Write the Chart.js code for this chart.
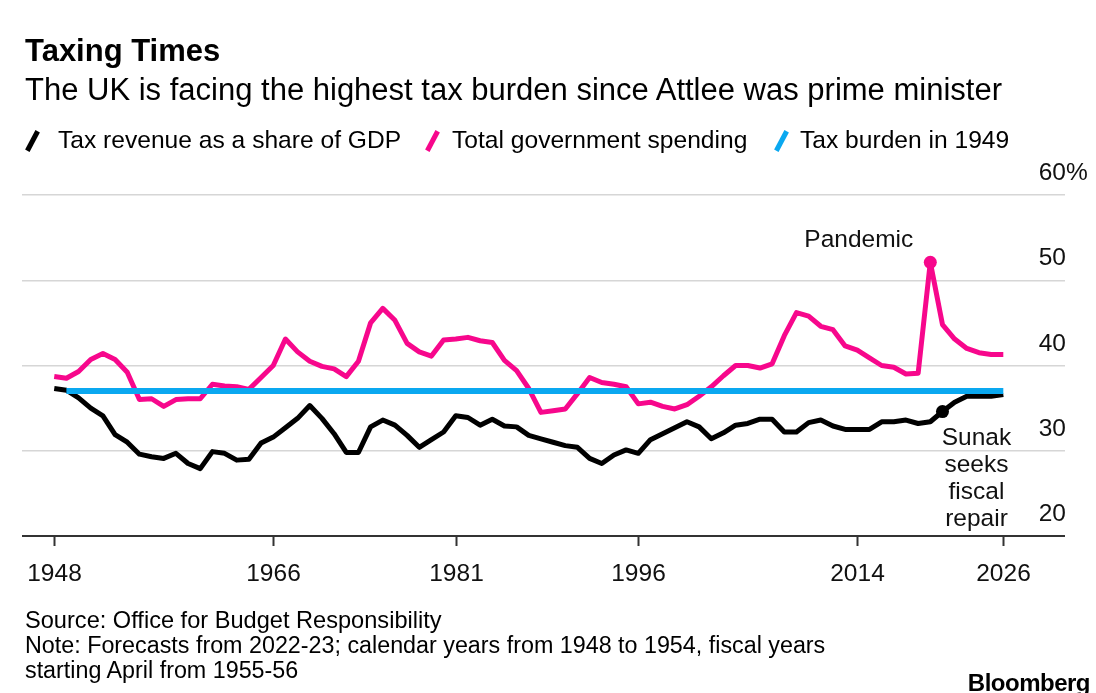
<!DOCTYPE html>
<html>
<head>
<meta charset="utf-8">
<script src="https://cdn.jsdelivr.net/npm/chart.js@4.4.1/dist/chart.umd.min.js"></script>
<style>
html,body{margin:0;padding:0;background:#fff;}
#wrap{position:relative;width:1096px;height:693px;overflow:hidden;font-family:"Liberation Sans",Arial,sans-serif;color:#000;}
#c{position:absolute;left:0;top:0;}
.t{position:absolute;white-space:nowrap;line-height:1;}
.sl{position:absolute;width:5px;height:22px;transform:rotate(28deg);}
</style>
</head>
<body>
<div id="wrap">
<canvas id="c" width="1096" height="693"></canvas>
<div class="t" style="left:25px;top:35px;font-size:31px;font-weight:bold;">Taxing Times</div>
<div class="t" style="left:25px;top:74px;font-size:31px;">The UK is facing the highest tax burden since Attlee was prime minister</div>
<div class="sl" style="left:30px;top:130px;background:#000;"></div>
<div class="t" style="left:58px;top:128px;font-size:24.6px;">Tax revenue as a share of GDP</div>
<div class="sl" style="left:430px;top:130px;background:#f7078c;"></div>
<div class="t" style="left:452px;top:128px;font-size:24.6px;">Total government spending</div>
<div class="sl" style="left:779px;top:130px;background:#0aa8f0;"></div>
<div class="t" style="left:800px;top:128px;font-size:24.6px;">Tax burden in 1949</div>
<div class="t" style="left:25px;top:609px;font-size:23.6px;">Source: Office for Budget Responsibility</div>
<div class="t" style="left:25px;top:634px;font-size:23.3px;">Note: Forecasts from 2022-23; calendar years from 1948 to 1954, fiscal years</div>
<div class="t" style="left:25px;top:659px;font-size:23.3px;">starting April from 1955-56</div>
<div class="t" style="right:6px;top:671px;font-size:24px;font-weight:bold;letter-spacing:-0.5px;">Bloomberg</div>
</div>
<script>
// ---- data ----
const years = [];
for (let yr = 1948; yr <= 2026; yr++) years.push(yr);

const taxRevenue = [
 37.3,37.1,36.2,35.0,34.1,31.9,31.0,29.6,29.3,29.1,
 29.7,28.5,27.9,29.9,29.7,28.9,29.0,30.9,31.6,32.7,
 33.8,35.3,33.8,32.0,29.8,29.8,32.8,33.6,33.0,31.8,
 30.4,31.3,32.2,34.1,33.9,33.0,33.7,32.9,32.8,31.8,
 31.4,31.0,30.6,30.4,29.1,28.5,29.5,30.1,29.7,31.3,
 32.0,32.7,33.4,32.8,31.4,32.1,33.0,33.2,33.7,33.7,
 32.2,32.2,33.3,33.6,32.9,32.5,32.5,32.5,33.4,33.4,
 33.6,33.2,33.4,34.6,35.7,36.4,36.4,36.4,36.6
];
const govSpending = [
 38.7,38.5,39.3,40.7,41.4,40.7,39.2,36.0,36.1,35.2,
 36.0,36.1,36.1,37.8,37.6,37.5,37.2,38.6,40.0,43.1,
 41.6,40.5,39.9,39.6,38.7,40.5,45.0,46.7,45.3,42.6,
 41.6,41.1,43.0,43.1,43.3,42.9,42.7,40.6,39.4,37.3,
 34.5,34.7,34.9,36.7,38.6,38.0,37.8,37.5,35.5,35.7,
 35.2,34.9,35.4,36.4,37.5,38.8,40.0,40.0,39.7,40.2,
 43.5,46.2,45.8,44.6,44.2,42.3,41.8,40.9,40.0,39.8,
 39.0,39.1,52.1,44.8,43.1,42.0,41.5,41.3,41.3
];
const burdenYears = [1949, 2026];
const burden1949 = [37.0, 37.0];

const xTickYears = [1948, 1966, 1981, 1996, 2014, 2026];
const yTickValues = [20, 30, 40, 50, 60];
const yTickLabels = ['20', '30', '40', '50', '60'];
const pandemicYear = 2020;
const sunakYear = 2021;

const BLACK = '#000000', PINK = '#f7078c', BLUE = '#0aa8f0';
const FONT = '"Liberation Sans", Arial, sans-serif';

const toXY = (xs, vs) => xs.map((x, i) => ({x: x, y: vs[i]}));

const overlay = {
  id: 'overlay',
  afterDraw(chart) {
    const {ctx, chartArea, scales: {x, y}} = chart;
    ctx.save();
    ctx.strokeStyle = '#333';
    ctx.lineWidth = 2;
    ctx.fillStyle = '#111';
    ctx.font = '24.5px ' + FONT;
    ctx.textAlign = 'center';
    ctx.textBaseline = 'alphabetic';
    xTickYears.forEach(yr => {
      const px = Math.round(x.getPixelForValue(yr)) + 0.5;
      ctx.beginPath();
      ctx.moveTo(px, chartArea.bottom);
      ctx.lineTo(px, chartArea.bottom + 10);
      ctx.stroke();
      ctx.fillText(String(yr), px, chartArea.bottom + 45);
    });
    yTickValues.forEach((v, i) => {
      const py = y.getPixelForValue(v);
      const rx = chartArea.right + 1;
      ctx.textAlign = 'right';
      ctx.fillText(yTickLabels[i], rx, py - 15);
      if (v === 60) {
        ctx.textAlign = 'left';
        ctx.fillText('%', rx, py - 15);
      }
    });
    const pi = years.indexOf(pandemicYear);
    const ppx = x.getPixelForValue(pandemicYear), ppy = y.getPixelForValue(govSpending[pi]);
    ctx.textAlign = 'right';
    ctx.fillText('Pandemic', ppx - 17, ppy - 15);
    const si = years.indexOf(sunakYear);
    const spx = x.getPixelForValue(sunakYear), spy = y.getPixelForValue(taxRevenue[si]);
    ctx.textAlign = 'center';
    ['Sunak', 'seeks', 'fiscal', 'repair'].forEach((s, k) => {
      ctx.fillText(s, spx + 34, spy + 33 + k * 27);
    });
    ctx.restore();
  }
};

new Chart(document.getElementById('c'), {
  type: 'line',
  data: {
    datasets: [
      {
        label: 'Tax burden in 1949',
        data: toXY(burdenYears, burden1949),
        borderColor: BLUE, borderWidth: 6, pointRadius: 0,
        borderCapStyle: 'butt', tension: 0
      },
      {
        label: 'Total government spending',
        data: toXY(years, govSpending),
        borderColor: PINK, backgroundColor: PINK, borderWidth: 5,
        pointRadius: c => years[c.dataIndex] === pandemicYear ? 6.5 : 0,
        pointBorderWidth: 0, pointBackgroundColor: PINK,
        borderJoinStyle: 'round', tension: 0
      },
      {
        label: 'Tax revenue as a share of GDP',
        data: toXY(years, taxRevenue),
        borderColor: BLACK, backgroundColor: BLACK, borderWidth: 5,
        pointRadius: c => years[c.dataIndex] === sunakYear ? 6.5 : 0,
        pointBorderWidth: 0, pointBackgroundColor: BLACK,
        borderJoinStyle: 'round', tension: 0
      }
    ]
  },
  options: {
    responsive: false,
    animation: false,
    devicePixelRatio: 1,
    events: [],
    layout: {padding: {left: 22, right: 31, top: 195, bottom: 157}},
    plugins: {legend: {display: false}, tooltip: {enabled: false}, title: {display: false}},
    scales: {
      x: {
        type: 'linear', min: 1945.35, max: 2031.07, display: false
      },
      y: {
        type: 'linear', min: 20, max: 60,
        ticks: {display: false, stepSize: 10},
        border: {display: false},
        grid: {
          drawTicks: false,
          color: c => c.tick && c.tick.value === 20 ? '#333' : '#d6d6d6',
          lineWidth: c => c.tick && c.tick.value === 20 ? 2 : 1.5
        }
      }
    }
  },
  plugins: [overlay]
});
</script>
</body>
</html>
